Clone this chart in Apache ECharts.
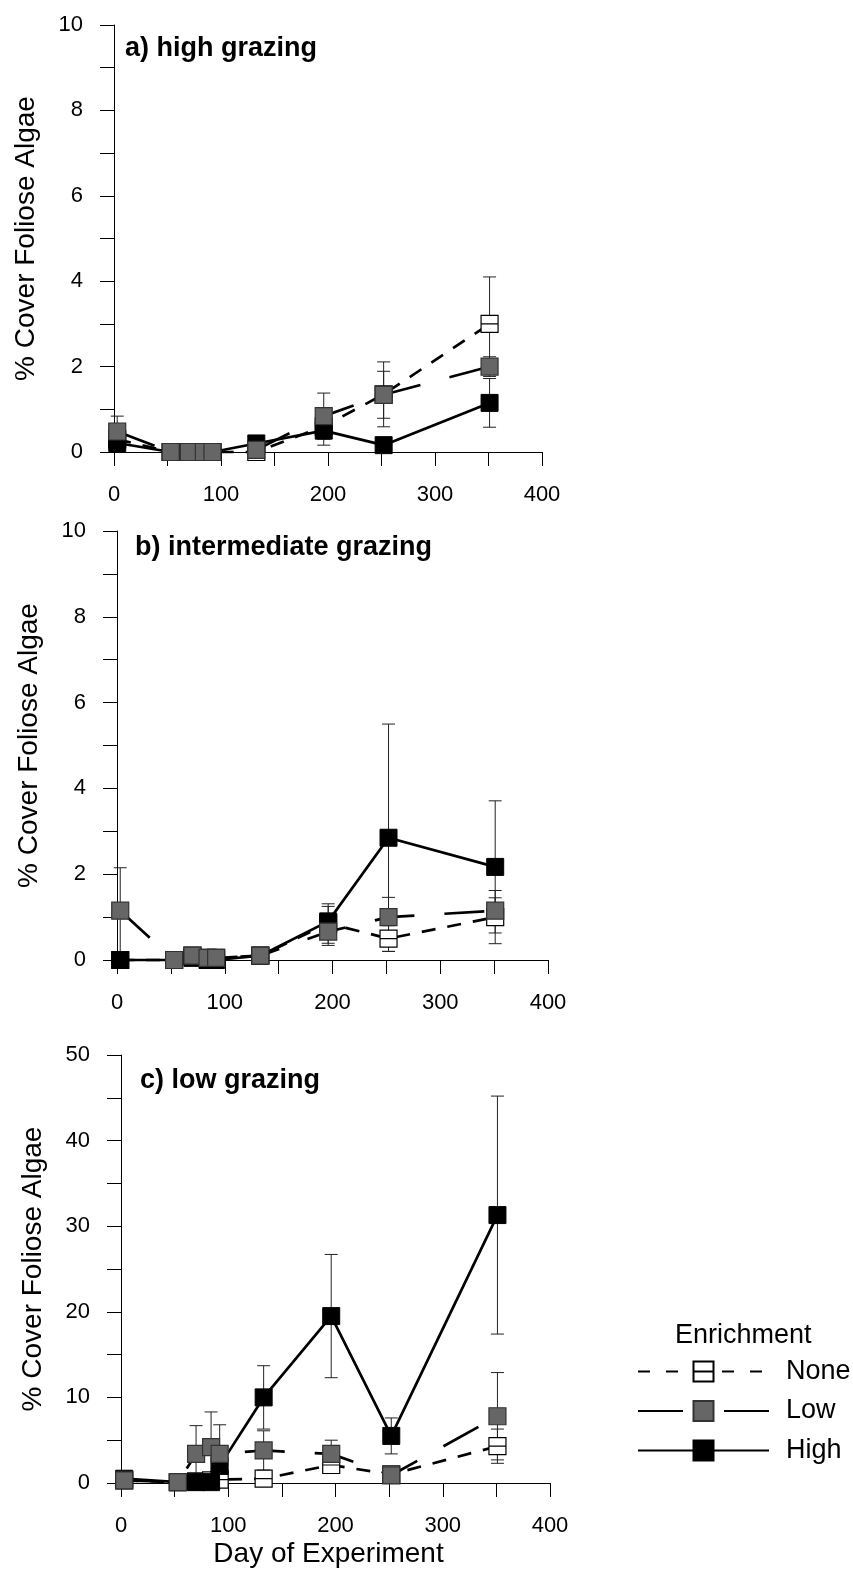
<!DOCTYPE html>
<html>
<head>
<meta charset="utf-8">
<script src="https://cdn.jsdelivr.net/npm/echarts@6/dist/echarts.min.js"></script>
<style>
  html, body { margin: 0; padding: 0; background: #fff; }
  #chart { width: 853px; height: 1570px; }
</style>
</head>
<body>
<div id="chart"></div>
<script>
// Sampling days shared by all panels
const days = [3, 53, 70, 84, 92, 133, 196, 252, 351];

// Tick label steps
const xTickStep = 50, xLabelStep = 100;

// a) high grazing: mean % cover and standard error per enrichment level
const highGrazingNone   = [0.3, 0, 0, 0, 0, 0, 0.6, 1.35, 3.0];
const highGrazingNoneSE = [0.1, 0, 0, 0, 0, 0, 0.2, 0.76, 1.1];
const highGrazingLow    = [0.48, 0, 0, 0, 0, 0.05, 0.84, 1.34, 2.0];
const highGrazingLowSE  = [0.36, 0, 0, 0, 0, 0, 0.54, 0.55, 0.23];
const highGrazingHigh   = [0.21, 0, 0, 0, 0, 0.2, 0.5, 0.16, 1.15];
const highGrazingHighSE = [0.1, 0, 0, 0, 0, 0.05, 0.34, 0.1, 0.57];

// b) intermediate grazing
const intGrazingNone   = [0, 0, 0.1, 0.05, 0.05, 0.1, 0.85, 0.5, 1.0];
const intGrazingNoneSE = [0, 0, 0.03, 0, 0, 0.03, 0.46, 0.3, 0.62];
const intGrazingLow    = [1.15, 0, 0.1, 0.05, 0.05, 0.1, 0.66, 1.0, 1.15];
const intGrazingLowSE  = [1.0, 0, 0.05, 0, 0, 0.05, 0.32, 0.46, 0.3];
const intGrazingHigh   = [0, 0, 0.05, 0, 0, 0.1, 0.9, 2.85, 2.17];
const intGrazingHighSE = [0, 0, 0, 0, 0, 0.05, 0.35, 2.65, 1.54];

// c) low grazing
const lowGrazingNone   = [0.3, 0.1, 0.2, 0.3, 0.4, 0.5, 2.1, 1.0, 4.3];
const lowGrazingNoneSE = [0.1, 0.05, 0.1, 0.1, 0.2, 0.3, 0.8, 0.4, 2.0];
const lowGrazingLow    = [0.3, 0.1, 3.4, 4.2, 3.4, 3.8, 3.4, 0.9, 7.8];
const lowGrazingLowSE  = [0.3, 0.1, 3.3, 4.1, 3.4, 2.3, 1.6, 0.4, 5.1];
const lowGrazingHigh   = [0.5, 0.1, 0.1, 0.1, 2.0, 10.0, 19.5, 5.5, 31.3];
const lowGrazingHighSE = [0.4, 0.05, 0.1, 0.2, 0.8, 3.7, 7.2, 2.1, 13.9];

const panelTitles = ['a) high grazing', 'b) intermediate grazing', 'c) low grazing'];
const yAxisTitle = '% Cover Foliose Algae';
const xAxisTitle = 'Day of Experiment';
const legendTitle = 'Enrichment';

const panels = [
  { title: panelTitles[0], yMax: 10, yTick: 1, yLabelStep: 2,
    none: [highGrazingNone, highGrazingNoneSE], low: [highGrazingLow, highGrazingLowSE], high: [highGrazingHigh, highGrazingHighSE],
    grid: { left: 114, top: 25, width: 428, height: 427 }, titlePos: { left: 125, top: 35 } },
  { title: panelTitles[1], yMax: 10, yTick: 1, yLabelStep: 2,
    none: [intGrazingNone, intGrazingNoneSE], low: [intGrazingLow, intGrazingLowSE], high: [intGrazingHigh, intGrazingHighSE],
    grid: { left: 117, top: 531, width: 431, height: 429 }, titlePos: { left: 135, top: 534 } },
  { title: panelTitles[2], yMax: 50, yTick: 5, yLabelStep: 10,
    none: [lowGrazingNone, lowGrazingNoneSE], low: [lowGrazingLow, lowGrazingLowSE], high: [lowGrazingHigh, lowGrazingHighSE],
    grid: { left: 121, top: 1055, width: 429, height: 428 }, titlePos: { left: 140, top: 1067 } }
];

const FONT = "'Liberation Sans', Arial, sans-serif";
const symbolNone = 'path://M0,0H20V20H0ZM0,10H20';

const styles = {
  None: { symbol: symbolNone, itemStyle: { color: '#ffffff', borderColor: '#000', borderWidth: 1.2 },
          lineStyle: { color: '#000', width: 2.7, type: [14, 12] } },
  Low:  { symbol: 'rect', itemStyle: { color: '#666666', borderColor: '#333', borderWidth: 1.2 },
          lineStyle: { color: '#000', width: 2.7, type: [40, 30] } },
  High: { symbol: 'rect', itemStyle: { color: '#000000', borderColor: '#000', borderWidth: 1 },
          lineStyle: { color: '#000', width: 2.7, type: 'solid' } }
};

function errorBars(means, ses) {
  const out = [];
  means.forEach((m, k) => {
    if (ses[k] > 0) out.push([days[k], Math.max(0, m - ses[k]), m + ses[k]]);
  });
  return out;
}

const grids = [], xAxes = [], yAxes = [], series = [], titles = [];

panels.forEach((p, i) => {
  grids.push(p.grid);
  xAxes.push({
    type: 'value', gridIndex: i, min: 0, max: 400, interval: xTickStep,
    axisLine: { show: true, onZero: false, lineStyle: { color: '#000', width: 1 } },
    axisTick: { show: true, length: 14, lineStyle: { color: '#000', width: 1 } },
    axisLabel: { margin: 32, fontSize: 22, color: '#000', fontFamily: FONT,
                 formatter: v => (v % xLabelStep === 0 ? String(v) : '') },
    splitLine: { show: false },
    name: i === 2 ? xAxisTitle : '', nameLocation: 'middle', nameGap: 57,
    nameTextStyle: { fontSize: 28, color: '#000', fontFamily: FONT, padding: [0, 14, 0, 0] }
  });
  yAxes.push({
    type: 'value', gridIndex: i, min: 0, max: p.yMax, interval: p.yTick,
    axisLine: { show: true, onZero: false, lineStyle: { color: '#000', width: 1 } },
    axisTick: { show: true, length: 14, lineStyle: { color: '#000', width: 1 } },
    axisLabel: { margin: 31, fontSize: 22, color: '#000', fontFamily: FONT,
                 formatter: v => (v % p.yLabelStep === 0 ? String(v) : '') },
    splitLine: { show: false },
    name: yAxisTitle, nameLocation: 'middle', nameGap: 74, nameRotate: 90,
    nameTextStyle: { fontSize: 28, color: '#000', fontFamily: FONT }
  });

  // error bars for all three enrichment levels
  const bars = [].concat(errorBars(p.none[0], p.none[1]), errorBars(p.high[0], p.high[1]), errorBars(p.low[0], p.low[1]));
  series.push({
    type: 'custom', xAxisIndex: i, yAxisIndex: i, z: 1, silent: true, clip: false,
    data: bars,
    renderItem: (params, api) => {
      const top = api.coord([api.value(0), api.value(2)]);
      const bot = api.coord([api.value(0), api.value(1)]);
      const w = 6.5;
      const st = { stroke: '#222', lineWidth: 1 };
      return { type: 'group', children: [
        { type: 'line', shape: { x1: top[0], y1: top[1], x2: bot[0], y2: bot[1] }, style: st },
        { type: 'line', shape: { x1: top[0] - w, y1: top[1], x2: top[0] + w, y2: top[1] }, style: st },
        { type: 'line', shape: { x1: bot[0] - w, y1: bot[1], x2: bot[0] + w, y2: bot[1] }, style: st }
      ]};
    }
  });

  [['None', p.none[0]], ['High', p.high[0]], ['Low', p.low[0]]].forEach(([name, vals]) => {
    const s = styles[name];
    series.push({
      name, type: 'line', xAxisIndex: i, yAxisIndex: i, z: 2, clip: false,
      data: days.map((d, k) => [d, vals[k]]),
      symbol: s.symbol, symbolSize: 17, showAllSymbol: true,
      itemStyle: s.itemStyle, lineStyle: s.lineStyle,
      emphasis: { disabled: true }
    });
  });

  titles.push({ text: p.title, left: p.titlePos.left, top: p.titlePos.top, padding: 0,
                textStyle: { fontSize: 27, fontWeight: 'bold', color: '#000', fontFamily: FONT, lineHeight: 27 } });
});

titles.push({ text: legendTitle, left: 675, top: 1322, padding: 0,
              textStyle: { fontSize: 27, fontWeight: 'normal', color: '#000', fontFamily: FONT, lineHeight: 27 } });

const chart = echarts.init(document.getElementById('chart'), null, { renderer: 'canvas' });
chart.setOption({
  animation: false,
  backgroundColor: '#fff',
  title: titles,
  grid: grids,
  xAxis: xAxes,
  yAxis: yAxes,
  legend: {
    orient: 'vertical', left: 637, top: 1358, padding: 0,
    itemWidth: 131, itemHeight: 25, itemGap: 12.5, selectedMode: false,
    textStyle: { fontSize: 27, color: '#000', fontFamily: FONT, lineHeight: 27, padding: [0, 0, 0, 12] },
    data: [
      { name: 'None', lineStyle: { type: [12, 16] } },
      { name: 'Low', lineStyle: { type: [45, 41] } },
      { name: 'High' }
    ]
  },
  series
});
</script>
</body>
</html>
